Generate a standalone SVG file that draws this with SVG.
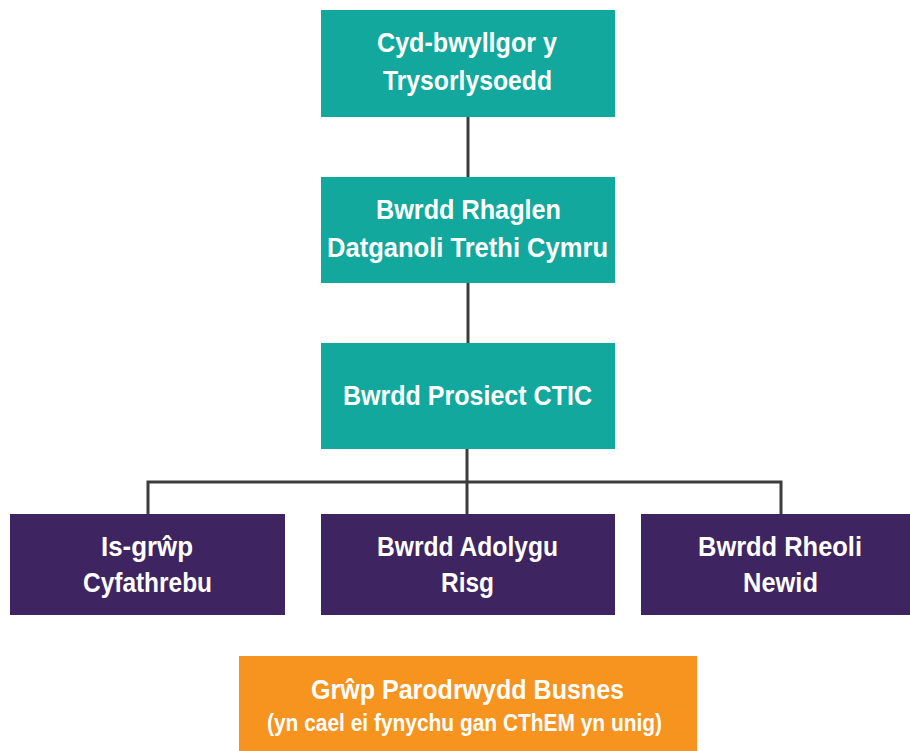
<svg xmlns="http://www.w3.org/2000/svg" width="910" height="751" viewBox="0 0 910 751">
<style>
.teal{fill:#12A89D}
.purple{fill:#3E2461}
.orange{fill:#F7941F}
text{font-family:"Liberation Sans",Arial,sans-serif;font-weight:bold;fill:#fff;text-anchor:middle;font-size:28px}
.small{font-size:24px}
.conn{stroke:#3C3C3C;stroke-width:3;fill:none}
</style>
<rect width="910" height="751" fill="#fff"/>
<g id="connectors">
<line class="conn" x1="468" y1="117" x2="468" y2="177"/>
<line class="conn" x1="468" y1="283" x2="468" y2="343"/>
<line class="conn" x1="467" y1="449" x2="467" y2="514"/>
<polyline class="conn" points="148,514 148,482 781,482 781,514"/>
</g>
<g id="n1">
<rect class="teal" x="321" y="10" width="294" height="107"/>
<text x="467" y="52" textLength="180" lengthAdjust="spacingAndGlyphs">Cyd-bwyllgor y</text>
<text x="467.5" y="90" textLength="169" lengthAdjust="spacingAndGlyphs">Trysorlysoedd</text>
</g>
<g id="n2">
<rect class="teal" x="321" y="177" width="294" height="106"/>
<text x="468.5" y="219" textLength="185" lengthAdjust="spacingAndGlyphs">Bwrdd Rhaglen</text>
<text x="467.5" y="257" textLength="281" lengthAdjust="spacingAndGlyphs">Datganoli Trethi Cymru</text>
</g>
<g id="n3">
<rect class="teal" x="321" y="343" width="294" height="106"/>
<text x="467.5" y="405" textLength="249" lengthAdjust="spacingAndGlyphs">Bwrdd Prosiect CTIC</text>
</g>
<g id="n4">
<rect class="purple" x="10" y="514" width="275" height="101"/>
<text x="147" y="556" textLength="92" lengthAdjust="spacingAndGlyphs">Is-grŵp</text>
<text x="147.5" y="592" textLength="129" lengthAdjust="spacingAndGlyphs">Cyfathrebu</text>
</g>
<g id="n5">
<rect class="purple" x="321" y="514" width="294" height="101"/>
<text x="467.5" y="556" textLength="181" lengthAdjust="spacingAndGlyphs">Bwrdd Adolygu</text>
<text x="467.5" y="592" textLength="53" lengthAdjust="spacingAndGlyphs">Risg</text>
</g>
<g id="n6">
<rect class="purple" x="641" y="514" width="278" height="101"/>
<text x="780" y="556" textLength="164" lengthAdjust="spacingAndGlyphs">Bwrdd Rheoli</text>
<text x="780.5" y="592" textLength="75" lengthAdjust="spacingAndGlyphs">Newid</text>
</g>
<g id="n7">
<rect class="orange" x="239" y="656" width="458" height="100"/>
<text x="467.5" y="699" textLength="313" lengthAdjust="spacingAndGlyphs">Grŵp Parodrwydd Busnes</text>
<text class="small" x="464.5" y="731" textLength="395" lengthAdjust="spacingAndGlyphs">(yn cael ei fynychu gan CThEM yn unig)</text>
</g>
</svg>
